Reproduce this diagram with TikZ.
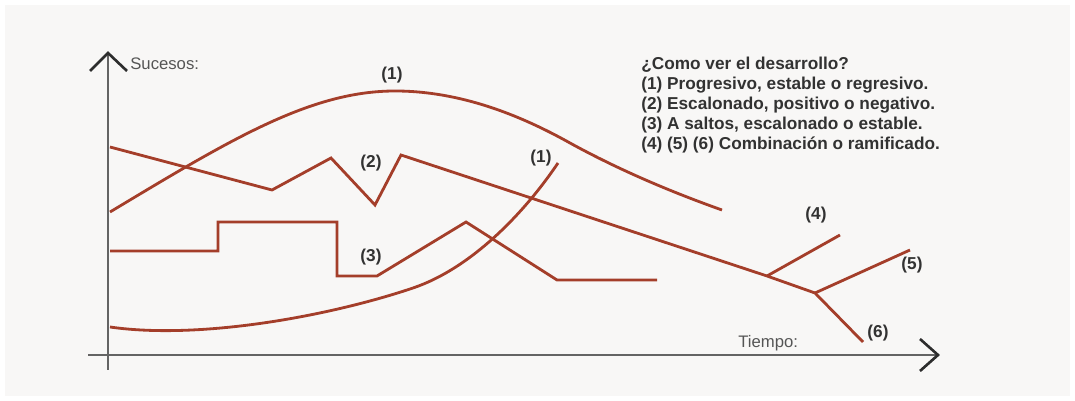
\documentclass[tikz,border=0pt]{standalone}
\usepackage{fontspec}
\setmainfont{Liberation Sans}
\usetikzlibrary{positioning}

\definecolor{colTrazo}{RGB}{164,62,42}
\definecolor{colEje}{RGB}{100,100,100}
\definecolor{colPunta}{RGB}{45,45,45}
\definecolor{colFondo}{RGB}{248,247,246}
\definecolor{colTexto}{RGB}{50,50,50}
\definecolor{colRotulo}{RGB}{85,85,85}

\begin{document}
\begin{tikzpicture}[
        x=0.02cm, y=-0.02cm,
        curva/.style={
            draw=colTrazo,
            line width=1.6pt,
            line join=miter
        },
        axis/.style={
            draw=colEje,
            line width=1.1pt
        },
        punta/.style={
            draw=colPunta,
            line width=1.5pt,
            line join=miter
        },
        rotulo/.style={
            font=\fontsize{9.5}{11}\selectfont,
            text=colRotulo,
            inner sep=0pt,
            anchor=base west
        },
        numero/.style={
            font=\fontsize{9.8}{11}\selectfont\bfseries,
            text=colTexto,
            inner sep=0pt
        },
        leyenda/.style={
            font=\fontsize{9.8}{11}\selectfont\bfseries,
            text=colTexto,
            inner sep=0pt,
            anchor=base west
        }
    ]
        \useasboundingbox (0,0) rectangle (1075,401);
        \fill[white] (0,0) rectangle (1075,401);
        \fill[colFondo] (5,5) rectangle (1070,396);

        \draw[axis] (108,370) -- (108,54);
        \draw[axis] (88,355) -- (937,355);
        \draw[punta] (90,71) -- (108,53) -- (127,71);
        \draw[punta] (920,339) -- (938,355) -- (920,371);

        \node[rotulo] (sucesos) at (130,70) {Sucesos:};
        \node[rotulo] (tiempo) at (738,348) {Tiempo:};

        \draw[curva] (110,212) .. controls (230,140) and (310,91) .. (395,91)
            .. controls (460,91) and (520,115) .. (570,143)
            .. controls (610,165) and (660,188) .. (722,210);
        \draw[curva] (110,327) .. controls (200,340) and (330,316) .. (413,288)
            .. controls (472,268) and (525,212) .. (558,163);
        \draw[curva] (110,147) -- (272,190) -- (331,158) -- (375,205) -- (401,155) -- (767,276) -- (815,293);
        \draw[curva] (767,276) -- (840,235);
        \draw[curva] (815,293) -- (910,250);
        \draw[curva] (815,293) -- (863,342);
        \draw[curva] (110,251) -| (218,222) -| (337,276) -- (377,276) -- (466,222) -- (557,280) -- (657,280);

        \node[numero] (n1a) at (392,75) {(1)};
        \node[numero] (n1b) at (541,158) {(1)};
        \node[numero] (n2) at (371,163) {(2)};
        \node[numero] (n3) at (371,257) {(3)};
        \node[numero] (n4) at (816,215) {(4)};
        \node[numero] (n5) at (912,265) {(5)};
        \node[numero] (n6) at (878,333) {(6)};

        \foreach \fila/\texto [count=\i] in {70/{¿Como ver el desarrollo?},
                90/{(1) Progresivo, estable o regresivo.},
                110/{(2) Escalonado, positivo o negativo.},
                130/{(3) A saltos, escalonado o estable.},
                150/{(4) (5) (6) Combinación o ramificado.}} {
            \node[leyenda] (ley\i) at (641,\fila) {\texto};
        }
    \end{tikzpicture}
\end{document}
